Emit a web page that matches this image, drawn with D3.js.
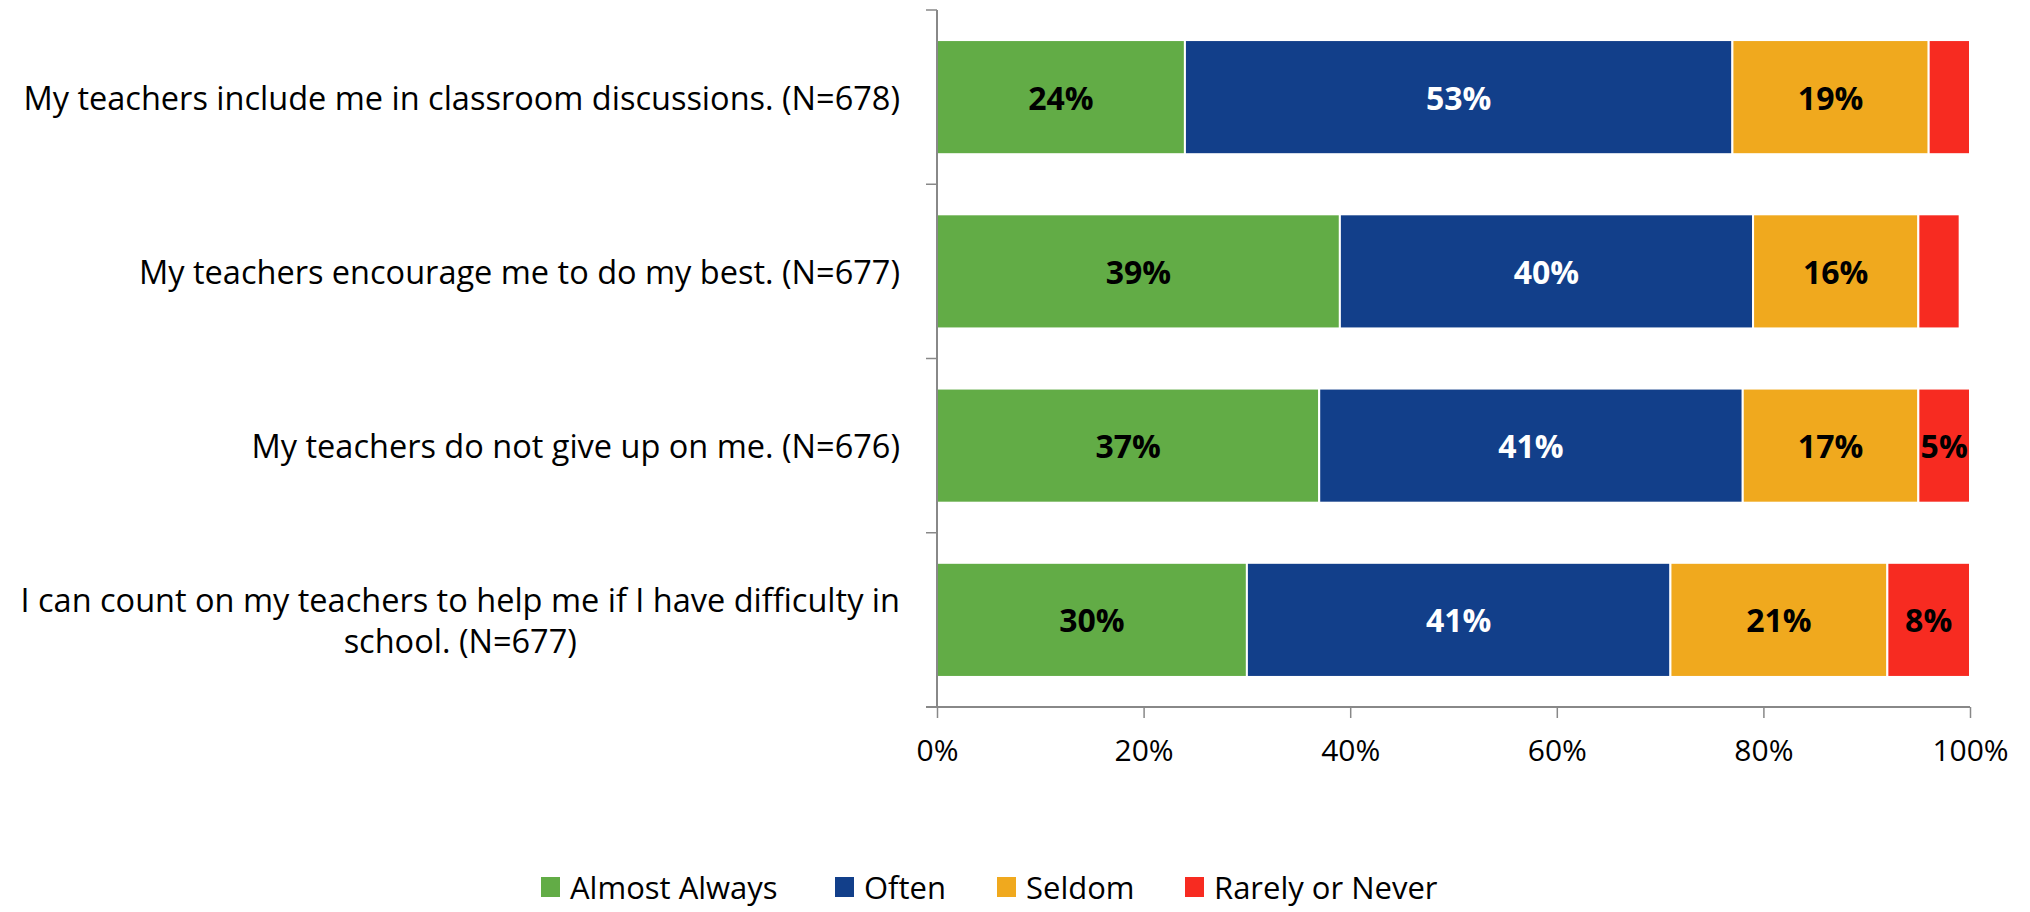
<!DOCTYPE html>
<html>
<head>
<meta charset="utf-8">
<script src="https://cdn.jsdelivr.net/npm/d3@7"></script>
<style>
  body { margin: 0; background: #fff; }
  svg { font-family: "Open Sans", sans-serif; }
</style>
</head>
<body>
<svg width="2030" height="912"></svg>
<script>
let categories = [
  ["My teachers include me in classroom discussions. (N=678)"],
  ["My teachers encourage me to do my best. (N=677)"],
  ["My teachers do not give up on me. (N=676)"],
  ["I can count on my teachers to help me if I have difficulty in", "school. (N=677)"]
];
let seriesNames = ["Almost Always", "Often", "Seldom", "Rarely or Never"];
let almostAlways = [24, 39, 37, 30];
let often = [53, 40, 41, 41];
let seldom = [19, 16, 17, 21];
let rarelyNever = [4, 4, 5, 8];
let tickValues = [0, 20, 40, 60, 80, 100];

let colors = ["#62ac46", "#123f8a", "#f0a91e", "#f72b21"];
let labelColors = ["#000", "#fff", "#000", "#000"];

let svg = d3.select("svg");
let margin = {left: 937, right: 60, top: 10, bottom: 205};
let width = 2030 - margin.left - margin.right;
let height = 912 - margin.top - margin.bottom;

let g = svg.append("g").attr("transform", `translate(${margin.left}, ${margin.top})`);

let rows = categories.map((c, i) => ({
  key: i,
  label: c,
  values: [almostAlways[i], often[i], seldom[i], rarelyNever[i]]
}));

let xScale = d3.scaleLinear().domain([0, 100]).range([0, 1033]);
let yScale = d3.scaleBand()
  .domain(rows.map(d => d.key))
  .range([0, height])
  .paddingInner(0.345)
  .paddingOuter(0.1725);

// stacked segments
let segments = [];
rows.forEach(r => {
  let acc = 0;
  r.values.forEach((v, j) => {
    segments.push({row: r.key, series: j, x0: acc, x1: acc + v, v: v});
    acc += v;
  });
});

g.selectAll(".seg")
  .data(segments)
  .enter()
  .append("rect")
  .attr("class", "seg")
  .attr("x", d => xScale(d.x0))
  .attr("y", d => yScale(d.row))
  .attr("width", d => xScale(d.x1) - xScale(d.x0))
  .attr("height", yScale.bandwidth())
  .attr("fill", d => colors[d.series])
  .attr("stroke", "#fff")
  .attr("stroke-width", 2);

g.selectAll(".seg-label")
  .data(segments.filter(d => d.v >= 5))
  .enter()
  .append("text")
  .attr("class", "seg-label")
  .attr("x", d => xScale((d.x0 + d.x1) / 2))
  .attr("y", d => yScale(d.row) + yScale.bandwidth() / 2)
  .attr("text-anchor", "middle")
  .attr("dominant-baseline", "central")
  .attr("font-size", 32)
  .attr("font-weight", "bold")
  .attr("fill", d => labelColors[d.series])
  .text(d => d.v + "%");

// x axis
let xAxis = d3.axisBottom(xScale)
  .tickValues(tickValues)
  .tickFormat(d => d + "%")
  .tickSize(11)
  .tickSizeOuter(0)
  .tickPadding(20);
let gx = g.append("g")
  .attr("transform", `translate(0, ${height})`)
  .call(xAxis);
gx.select(".domain").attr("stroke", "#888").attr("stroke-width", 2).attr("d", `M-11,0H${xScale(100)}`);
gx.selectAll(".tick line").attr("stroke", "#888").attr("stroke-width", 1.5);
gx.selectAll(".tick text").attr("font-size", 30).attr("fill", "#000")
  .attr("font-family", "Open Sans").attr("dy", "0.75em");

// y axis line and ticks at band boundaries
g.append("line")
  .attr("x1", 0).attr("x2", 0).attr("y1", 0).attr("y2", height)
  .attr("stroke", "#888").attr("stroke-width", 2);
let step = yScale.step();
let boundaries = d3.range(rows.length).map(i => yScale(i) - yScale.paddingOuter() * step);
g.selectAll(".ytick")
  .data(boundaries)
  .enter()
  .append("line")
  .attr("x1", -11).attr("x2", 0)
  .attr("y1", d => d).attr("y2", d => d)
  .attr("stroke", "#888").attr("stroke-width", 1.5);

// category labels
let labelRight = -37;
rows.forEach(r => {
  let cy = yScale(r.key) + yScale.bandwidth() / 2;
  let lineH = 41;
  let t = g.append("text")
    .attr("font-size", 32.5)
    .attr("fill", "#000")
    .attr("text-anchor", "middle");
  let n = r.label.length;
  r.label.forEach((line, k) => {
    t.append("tspan")
      .attr("x", 0)
      .attr("y", cy + (k - (n - 1) / 2) * lineH)
      .attr("dominant-baseline", "central")
      .text(line);
  });
  let w = d3.max(t.selectAll("tspan").nodes(), n => n.getComputedTextLength());
  t.selectAll("tspan").attr("x", labelRight - w / 2);
});

// legend
let legendX = [541, 835, 997, 1185];
let legend = svg.append("g").attr("transform", "translate(0, 887)");
seriesNames.forEach((s, i) => {
  legend.append("rect")
    .attr("x", legendX[i]).attr("y", -10)
    .attr("width", 19).attr("height", 20)
    .attr("fill", colors[i]);
  legend.append("text")
    .attr("x", legendX[i] + 29).attr("y", 0)
    .attr("dominant-baseline", "central")
    .attr("font-size", 31)
    .text(s);
});
</script>
</body>
</html>
